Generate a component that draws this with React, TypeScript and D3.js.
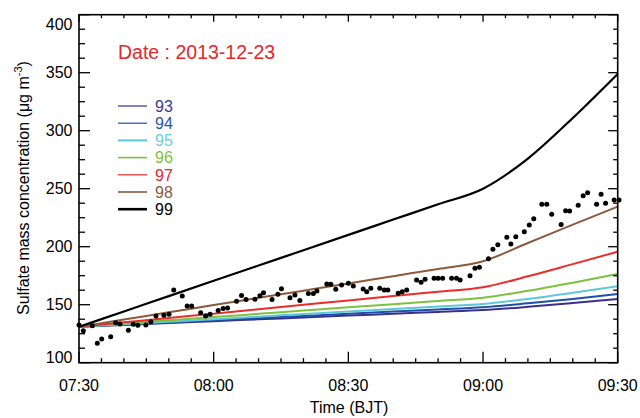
import React from "react";
import * as d3 from "d3";

// ---------- data ----------
const startTime = new Date(2013, 11, 23, 7, 30);
const endTime = new Date(2013, 11, 23, 9, 30);
const dateLabel = "Date : 2013-12-23";

// model curves: minutes after 07:30
const modelMinutes = [0, 10, 20, 30, 40, 50, 60, 70, 80, 90, 100, 110, 120];
const series93 = [131, 132.6, 134.2, 135.8, 137.4, 139.0, 140.6, 142.2, 143.8, 145.4, 148.2, 151.5, 155.0];
const series94 = [131, 132.9, 134.7, 136.6, 138.5, 140.3, 142.2, 144.1, 145.9, 147.8, 151.2, 155.0, 159.2];
const series95 = [131, 133.2, 135.4, 137.5, 139.7, 141.9, 144.1, 146.2, 148.4, 150.6, 155.0, 160.3, 166.0];
const series96 = [131, 133.8, 136.6, 139.3, 142.1, 144.9, 147.7, 150.4, 153.2, 156.0, 162.0, 169.0, 176.5];
const series97 = [131, 134.8, 138.6, 142.3, 146.1, 149.9, 153.7, 157.4, 161.2, 165.0, 174.5, 185.0, 195.7];
const series98 = [131, 137.2, 143.4, 149.7, 155.9, 162.1, 168.3, 174.6, 180.8, 187.5, 203.2, 219.0, 234.5];
const series99 = [131, 144.2, 157.4, 170.6, 183.8, 197.0, 210.2, 223.4, 236.6, 250.0, 276.0, 311.0, 349.0];
const seriesNames = ["93", "94", "95", "96", "97", "98", "99"];
const seriesValues = [series93, series94, series95, series96, series97, series98, series99];

// observations: minutes after 07:30
const obsMinutes = [0, 0.96, 2.97, 4.08, 5.06, 7.06, 8.18, 9.13, 11.0, 12.1, 13.1, 14.9, 16.0, 17.15, 18.9, 20.05, 21.1, 23.0, 24.1, 25.1, 27.1, 28.2, 29.2, 31.0, 32.1, 33.1, 35.1, 36.2, 37.2, 39.2, 40.3, 41.1, 43.0, 44.3, 45.1, 47.0, 48.1, 49.2, 51.1, 52.2, 53.0, 55.2, 56.1, 57.2, 58.5, 60.0, 61.1, 63.3, 64.1, 65.0, 67.0, 68.0, 68.8, 71.1, 72.0, 73.0, 75.2, 76.2, 77.1, 79.1, 80.0, 81.0, 83.0, 84.1, 84.9, 87.1, 88.2, 89.2, 91.2, 92.2, 93.3, 95.3, 96.2, 97.3, 99.2, 100.3, 101.3, 103.1, 104.2, 105.3, 107.4, 108.4, 109.3, 111.2, 112.3, 113.3, 115.3, 116.3, 117.3, 119.2, 120.3];
const obsValues = [132.5, 127.6, 131.9, 116.7, 120.4, 122.4, 134.5, 133.4, 127.9, 133.1, 132.2, 132.5, 135.3, 140.3, 140.9, 141.7, 162.7, 157.5, 148.9, 148.9, 143.1, 140.3, 141.7, 145.0, 146.7, 147.1, 152.9, 157.9, 154.5, 154.7, 157.8, 160.3, 154.5, 159.0, 163.7, 156.0, 158.4, 153.6, 159.7, 159.7, 161.8, 167.8, 167.6, 163.3, 167.0, 168.4, 166.1, 163.5, 161.2, 164.1, 164.1, 162.7, 162.7, 159.8, 161.2, 162.7, 171.3, 169.3, 171.9, 172.8, 172.8, 172.8, 172.8, 172.8, 171.3, 175.0, 181.4, 182.2, 189.7, 197.8, 201.7, 208.1, 202.3, 208.6, 212.9, 218.7, 224.1, 236.6, 236.6, 228.0, 219.1, 231.0, 230.8, 235.7, 244.0, 246.6, 236.6, 245.2, 237.4, 240.3, 240.3];

const yMajorTicks = [100, 150, 200, 250, 300, 350, 400];

// ---------- styles ----------
const lineColors = ["#3b2f8e", "#1f4fa6", "#5ec7d8", "#7cc13f", "#ee2b2b", "#8b5a3c", "#000000"];
const labelColors = ["#3d3790", "#2a55a8", "#6ccfdd", "#7fbf3f", "#e8262a", "#8a5a3c", "#000000"];
const legendWidths = [1.2, 1.2, 2, 1.6, 1.2, 1.6, 2.6];
const FONT = "'Liberation Sans', Arial, Helvetica, sans-serif";

const W = 640, H = 418;
const L = 79, R = 617.7, T = 14.7, B = 362.7;

const addMin = (m: number) => new Date(startTime.getTime() + m * 60000);

export default function App() {
  const x = d3.scaleTime().domain([startTime, endTime]).range([L, R]);
  const y = d3.scaleLinear().domain([100, 400]).range([B, T]);

  const xMajor = d3.timeMinute.every(30)!.range(startTime, new Date(endTime.getTime() + 1));
  const xMinor = d3.timeMinute.every(5)!.range(startTime, new Date(endTime.getTime() + 1));
  const yMinor = d3.range(100, 400.01, 12.5);
  const fmt = d3.timeFormat("%H:%M");

  const line = d3
    .line<number>()
    .x((_, i) => x(addMin(modelMinutes[i])))
    .y((v) => y(v))
    .curve(d3.curveMonotoneX);

  const legendY0 = 106;
  const legendStep = 17.2;

  return (
    <svg
      width={W}
      height={H}
      viewBox={`0 0 ${W} ${H}`}
      style={{ position: "absolute", left: 0, top: 0, background: "#fff" }}
      fontFamily={FONT}
    >
      <rect x={0} y={0} width={W} height={H} fill="#fff" />

      {/* model lines */}
      {seriesValues.map((vals, i) => (
        <path key={i} d={line(vals) || ""} fill="none" stroke={lineColors[i]} strokeWidth={i === 6 ? 2.2 : 2} />
      ))}

      {/* observations */}
      {obsMinutes.map((m, i) => (
        <circle key={i} cx={x(addMin(m))} cy={y(obsValues[i])} r={2.5} fill="#000" />
      ))}

      {/* frame */}
      <rect x={L} y={T} width={R - L} height={B - T} fill="none" stroke="#000" strokeWidth={1.6} />

      {/* x ticks */}
      {xMinor.map((d, i) => {
        const isMajor = xMajor.some((m) => m.getTime() === d.getTime());
        const px = x(d);
        return (
          <g key={i} stroke="#000" strokeWidth={1.3}>
            <line x1={px} x2={px} y1={B} y2={B - (isMajor ? 11 : 4.5)} />
            <line x1={px} x2={px} y1={T} y2={T + (isMajor ? 7 : 3.5)} />
          </g>
        );
      })}
      {xMajor.map((d, i) => (
        <text key={i} x={x(d)} y={391} textAnchor="middle" fontSize={16} fill="#000">
          {fmt(d)}
        </text>
      ))}

      {/* y ticks */}
      {yMinor.map((v, i) => {
        const isMajor = yMajorTicks.includes(v);
        const py = y(v);
        return (
          <g key={i} stroke="#000" strokeWidth={1.3}>
            <line x1={L} x2={L + (isMajor ? 11 : 6)} y1={py} y2={py} />
            <line x1={R} x2={R - (isMajor ? 9.5 : 4.5)} y1={py} y2={py} />
          </g>
        );
      })}
      {yMajorTicks.map((v, i) => {
        const cy = Math.min(Math.max(y(v), T + 9.5), B - 5.5);
        return (
          <text key={i} x={72.5} y={cy} dy="0.36em" textAnchor="end" fontSize={16} fill="#000">
            {v}
          </text>
        );
      })}

      {/* axis titles */}
      <text x={349} y={413} textAnchor="middle" fontSize={16} fill="#000">
        Time (BJT)
      </text>
      <text transform="translate(29,188) rotate(-90)" textAnchor="middle" fontSize={16} fill="#000">
        Sulfate mass concentration (μg m
        <tspan fontSize={11} dy="-7">-3</tspan>
        <tspan dy="7">)</tspan>
      </text>

      {/* date */}
      <text x={118} y={59} fontSize={19.5} fill="#e8262a">
        {dateLabel}
      </text>

      {/* legend */}
      {seriesNames.map((name, i) => {
        const ly = legendY0 + i * legendStep;
        return (
          <g key={name}>
            <line x1={118} x2={147} y1={ly} y2={ly} stroke={lineColors[i]} strokeWidth={legendWidths[i]} />
            <text x={155} y={ly} dy="0.36em" fontSize={16} fill={labelColors[i]}>
              {name}
            </text>
          </g>
        );
      })}
    </svg>
  );
}
